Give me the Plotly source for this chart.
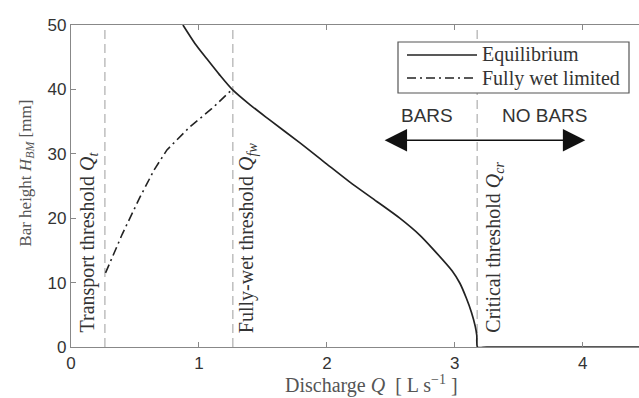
import plotly.graph_objects as go

# Equilibrium bar height curve
eq_q = [0.875, 0.97, 1.06, 1.16, 1.26, 1.40, 1.55, 1.79, 2.00, 2.18, 2.39, 2.57, 2.73, 2.83, 2.98, 3.04, 3.09, 3.13, 3.16, 3.172, 3.178, 3.25, 4.44]
eq_h = [50.0, 47.1, 44.8, 42.3, 40.0, 37.6, 35.3, 31.7, 28.4, 25.6, 22.6, 20.0, 17.3, 15.2, 11.8, 9.9, 7.6, 5.4, 3.2, 1.8, 0.0, 0.0, 0.0]

# Fully wet limited curve
fw_q = [0.27, 0.40, 0.54, 0.65, 0.75, 0.93, 1.10, 1.24, 1.26]
fw_h = [11.5, 17.5, 23.3, 27.5, 30.6, 34.2, 37.0, 39.5, 40.0]

# Thresholds
thr_names = ["Transport threshold <i>Q</i><sub><i>t</i></sub>",
             "Fully-wet threshold <i>Q</i><sub><i>fw</i></sub>",
             "Critical threshold <i>Q</i><sub><i>cr</i></sub>"]
thr_q = [0.265, 1.265, 3.175]
thr_label_q = [0.135, 1.375, 3.31]

x_ticks = [0, 1, 2, 3, 4]
y_ticks = [0, 10, 20, 30, 40, 50]

serif = "Liberation Serif"
sans = "Liberation Sans"

fig = go.Figure()

for q in thr_q:
    fig.add_trace(go.Scatter(x=[q, q], y=[0, 50], mode="lines",
                             line=dict(color="#b4b4b4", width=1.3, dash="9px,5px"),
                             showlegend=False, hoverinfo="skip"))

fig.add_trace(go.Scatter(x=fw_q, y=fw_h, mode="lines", name="Fully wet limited",
                         line=dict(color="#222222", width=1.6, dash="9px,4px,2px,4px"),
                         showlegend=False))
fig.add_trace(go.Scatter(x=eq_q, y=eq_h, mode="lines", name="Equilibrium",
                         line=dict(color="#222222", width=1.7, shape="spline", smoothing=0.7),
                         showlegend=False))

annotations = []
for name, xq in zip(thr_names, thr_label_q):
    annotations.append(dict(x=xq, y=1.9, xref="x", yref="y", text=name,
                            textangle=-90, showarrow=False,
                            xanchor="center", yanchor="bottom",
                            font=dict(family=serif, size=20, color="#333333")))

# BARS / NO BARS
annotations.append(dict(x=(427 - 71) / 128, y=36.0, xref="x", yref="y", text="BARS", showarrow=False,
                        font=dict(family=sans, size=19, color="#333333")))
annotations.append(dict(x=(545 - 71) / 128, y=36.0, xref="x", yref="y", text="NO BARS", showarrow=False,
                        font=dict(family=sans, size=19, color="#333333")))
annotations.append(dict(x=4.02, y=32.1, ax=2.44, ay=32.1, xref="x", yref="y",
                        axref="x", ayref="y", text="", showarrow=True,
                        arrowhead=2, startarrowhead=2, arrowside="end+start",
                        arrowwidth=1.6, arrowsize=2.8, startarrowsize=2.8,
                        arrowcolor="#111111"))

# Axis titles
annotations.append(dict(x=(371 - 71) / 568, y=-0.118, xref="paper", yref="paper",
                        text="Discharge <i>Q</i>  [ L s<sup>−1</sup> ]", showarrow=False,
                        xanchor="center", yanchor="middle",
                        font=dict(family=serif, size=20, color="#555555")))
annotations.append(dict(x=-0.078, y=(347 - 173) / 322, xref="paper", yref="paper",
                        text="Bar height <i>H</i><sub><i>BM</i></sub> [mm]", showarrow=False,
                        textangle=-90, xanchor="center", yanchor="middle",
                        font=dict(family=serif, size=17, color="#555555")))

# Legend (drawn manually)
shapes = [dict(type="rect", xref="paper", yref="paper",
               x0=(398 - 71) / 568, x1=(629 - 71) / 568,
               y0=(347 - 93) / 322, y1=(347 - 42) / 322,
               line=dict(color="#555555", width=1.2), fillcolor="white", layer="above")]
leg_items = [("Equilibrium", "solid", 55), ("Fully wet limited", "9px,4px,2px,4px", 78)]
for label, dash, py in leg_items:
    yp = (347 - py) / 322
    shapes.append(dict(type="line", xref="paper", yref="paper",
                       x0=(407 - 71) / 568, x1=(477 - 71) / 568, y0=yp, y1=yp,
                       line=dict(color="#222222", width=1.6, dash=dash), layer="above"))
    annotations.append(dict(x=(480 - 71) / 568, y=yp, xref="paper", yref="paper",
                            text=label, showarrow=False, xanchor="left", yanchor="middle",
                            font=dict(family=serif, size=20, color="#333333")))

fig.update_layout(
    width=639, height=398,
    margin=dict(l=71, r=0, t=25, b=51),
    paper_bgcolor="white", plot_bgcolor="white",
    showlegend=False,
    annotations=annotations, shapes=shapes,
    xaxis=dict(range=[0, 4.44], tickvals=x_ticks, ticks="inside", ticklen=5,
               tickcolor="#888888", showline=True, linecolor="#888888", linewidth=1.3,
               mirror="ticks", showgrid=False, zeroline=False,
               tickfont=dict(family=sans, size=17, color="#333333")),
    yaxis=dict(range=[0, 50], tickvals=y_ticks, ticks="inside", ticklen=5,
               tickcolor="#888888", showline=True, linecolor="#888888", linewidth=1.3,
               showgrid=False, zeroline=False,
               tickfont=dict(family=sans, size=17, color="#333333")),
)

fig.write_html("out.html")
